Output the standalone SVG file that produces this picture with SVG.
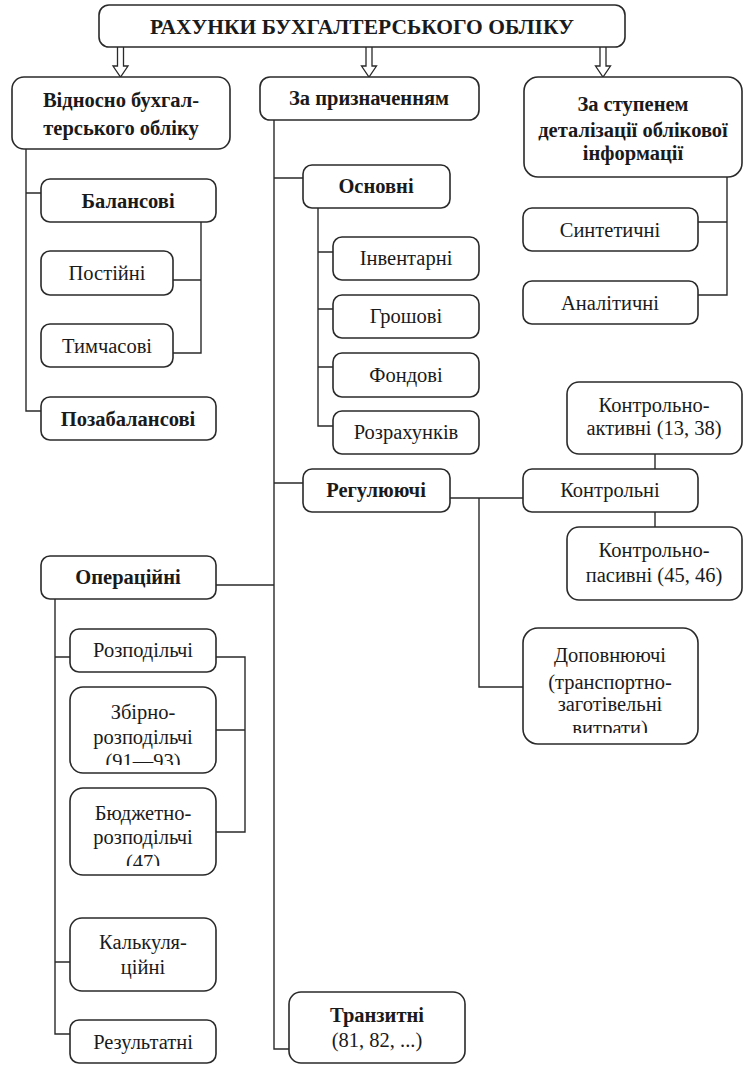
<svg xmlns="http://www.w3.org/2000/svg" width="753" height="1071" viewBox="0 0 753 1071">
<style>
.box{fill:#fff;stroke:#2a2a2a;stroke-width:1.6}
.t{font-family:'Liberation Serif','Times New Roman',serif;font-size:20.5px;fill:#1a1a1a;text-anchor:middle}
.b{font-weight:bold}
.h{font-size:21.5px}
.c{fill:none;stroke:#2a2a2a;stroke-width:1.4}
.ar{fill:#fff;stroke:#2a2a2a;stroke-width:1.3}
</style>
<defs>
<clipPath id="cpZb"><rect x="71" y="688" width="144" height="77"/></clipPath>
<clipPath id="cpBd"><rect x="71" y="789" width="144" height="77"/></clipPath>
<clipPath id="cpDp"><rect x="524" y="629" width="173" height="104"/></clipPath>
</defs>
<rect width="753" height="1071" fill="#fff"/>
<g id="connectors">
<path class="ar" d="M117.5,47 V66 H113 L120.5,77 L128,66 H123.5 V47"/>
<path class="ar" d="M366,47 V66 H361.5 L369,77 L376.5,66 H372 V47"/>
<path class="ar" d="M600,47 V66 H595.5 L603,77 L610.5,66 H606 V47"/>
<path class="c" d="M26,149 V411 H41 M26,193 H41"/>
<path class="c" d="M201,222 V353 H173 M173,280 H201"/>
<path class="c" d="M274,120 V1049 H289 M274,178 H303 M274,483 H303 M216,585 H274"/>
<path class="c" d="M318,208 V426 H333 M318,252 H333 M318,309 H333 M318,367 H333"/>
<path class="c" d="M727,177 V295 H698 M698,222 H727"/>
<path class="c" d="M450,498 H523 M479,498 V687 H523 M655,454 V469 M655,512 V527"/>
<path class="c" d="M55,599 V1034 H70 M55,657 H70 M55,962 H70"/>
<path class="c" d="M216,657 H245 V832 H216 M216,730 H245"/>
</g>
<g id="title"><rect class="box" x="99" y="5" width="526" height="42" rx="10"/><text class="t b h" x="362" y="34">РАХУНКИ БУХГАЛТЕРСЬКОГО ОБЛІКУ</text></g>
<g id="vidnosno"><rect class="box" x="12" y="77" width="218" height="72" rx="12"/><text class="t b" x="121" y="107">Відносно бухгал-</text><text class="t b" x="121" y="135">терського обліку</text></g>
<g id="pryznach"><rect class="box" x="260" y="77" width="219" height="43" rx="10"/><text class="t b" x="369" y="105">За призначенням</text></g>
<g id="stupen"><rect class="box" x="524" y="77" width="218" height="100" rx="14"/><text class="t b" x="633" y="111">За ступенем</text><text class="t b" x="633" y="137">деталізації облікової</text><text class="t b" x="633" y="160">інформації</text></g>
<g id="balansovi"><rect class="box" x="41" y="179" width="175" height="43" rx="9"/><text class="t b" x="128" y="208">Балансові</text></g>
<g id="postiyni"><rect class="box" x="41" y="251" width="132" height="44" rx="9"/><text class="t" x="107" y="280">Постійні</text></g>
<g id="tymchasovi"><rect class="box" x="41" y="324" width="132" height="43" rx="9"/><text class="t" x="107" y="353">Тимчасові</text></g>
<g id="pozabalansovi"><rect class="box" x="41" y="397" width="175" height="43" rx="9"/><text class="t b" x="128" y="426">Позабалансові</text></g>
<g id="osnovni"><rect class="box" x="303" y="165" width="147" height="43" rx="9"/><text class="t b" x="376" y="193">Основні</text></g>
<g id="inventarni"><rect class="box" x="333" y="237" width="146" height="43" rx="9"/><text class="t" x="406" y="265">Інвентарні</text></g>
<g id="groshovi"><rect class="box" x="333" y="295" width="146" height="43" rx="9"/><text class="t" x="406" y="323">Грошові</text></g>
<g id="fondovi"><rect class="box" x="333" y="353" width="146" height="44" rx="9"/><text class="t" x="406" y="382">Фондові</text></g>
<g id="rozrakhunkiv"><rect class="box" x="333" y="411" width="146" height="43" rx="9"/><text class="t" x="406" y="439">Розрахунків</text></g>
<g id="syntetychni"><rect class="box" x="523" y="208" width="175" height="43" rx="9"/><text class="t" x="610" y="237">Синтетичні</text></g>
<g id="analitychni"><rect class="box" x="523" y="281" width="175" height="43" rx="9"/><text class="t" x="610" y="310">Аналітичні</text></g>
<g id="kontr-aktyvni"><rect class="box" x="567" y="382" width="175" height="72" rx="12"/><text class="t" x="654" y="412">Контрольно-</text><text class="t" x="654" y="435">активні (13, 38)</text></g>
<g id="rehuliuiuchi"><rect class="box" x="303" y="469" width="147" height="43" rx="9"/><text class="t b" x="376" y="497">Регулюючі</text></g>
<g id="kontrolni"><rect class="box" x="523" y="469" width="175" height="43" rx="9"/><text class="t" x="610" y="497">Контрольні</text></g>
<g id="kontr-pasyvni"><rect class="box" x="567" y="527" width="175" height="73" rx="12"/><text class="t" x="654" y="557">Контрольно-</text><text class="t" x="654" y="582">пасивні (45, 46)</text></g>
<g id="dopovniuiuchi"><rect class="box" x="523" y="628" width="175" height="116" rx="15"/><g clip-path="url(#cpDp)"><text class="t" x="610" y="662">Доповнюючі</text><text class="t" x="610" y="689">(транспортно-</text><text class="t" x="610" y="711">заготівельні</text><text class="t" x="610" y="735">витрати)</text></g></g>
<g id="operatsiyni"><rect class="box" x="41" y="556" width="175" height="43" rx="9"/><text class="t b" x="128" y="584">Операційні</text></g>
<g id="rozpodilchi"><rect class="box" x="70" y="629" width="146" height="43" rx="9"/><text class="t" x="143" y="657">Розподільчі</text></g>
<g id="zbirno"><rect class="box" x="70" y="687" width="146" height="86" rx="13"/><g clip-path="url(#cpZb)"><text class="t" x="143" y="719">Збірно-</text><text class="t" x="143" y="744">розподільчі</text><text class="t" x="143" y="768">(91—93)</text></g></g>
<g id="biudzhetno"><rect class="box" x="70" y="788" width="146" height="87" rx="13"/><g clip-path="url(#cpBd)"><text class="t" x="143" y="820">Бюджетно-</text><text class="t" x="143" y="844">розподільчі</text><text class="t" x="143" y="869">(47)</text></g></g>
<g id="kalkuliatsiyni"><rect class="box" x="70" y="918" width="146" height="73" rx="12"/><text class="t" x="143" y="949">Калькуля-</text><text class="t" x="143" y="974">ційні</text></g>
<g id="rezultatni"><rect class="box" x="70" y="1020" width="146" height="43" rx="9"/><text class="t" x="143" y="1049">Результатні</text></g>
<g id="tranzytni"><rect class="box" x="289" y="992" width="176" height="71" rx="12"/><text class="t b" x="377" y="1022">Транзитні</text><text class="t" x="377" y="1047">(81, 82, ...)</text></g>
</svg>
